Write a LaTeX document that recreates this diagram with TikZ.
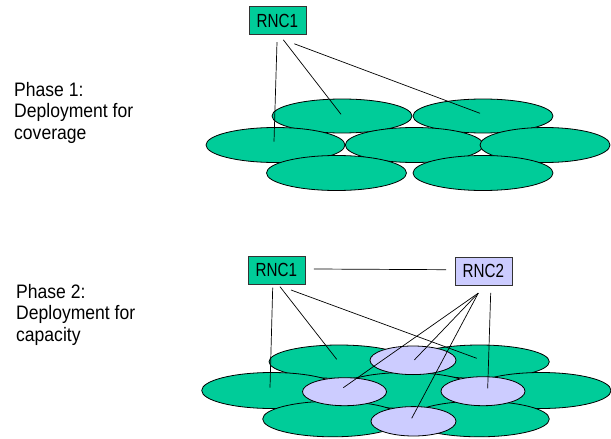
\documentclass[tikz,border=0pt]{standalone}
\usepackage{fontspec}
\setmainfont{Liberation Sans}[FakeStretch=0.9]
\newfontfamily\rncfont{Liberation Sans}[FakeStretch=0.8]
\usetikzlibrary{shapes.geometric}
\definecolor{cellgreen}{HTML}{00CC99}
\definecolor{cellblue}{HTML}{CCCCFF}
\begin{document}
\begin{tikzpicture}[x=1pt,y=-1pt,
 cellg/.style={ellipse,draw=black,fill=cellgreen,line width=0.8pt,inner sep=0pt},
 cellb/.style={ellipse,draw=black,fill=cellblue,line width=0.8pt,inner sep=0pt},
 rnc/.style={draw=black!80,line width=0.6pt,minimum width=57pt,minimum height=28pt,inner sep=0pt,font=\rncfont\fontsize{19}{20}\selectfont},
 link/.style={line width=0.7pt},
 phase/.style={anchor=north west,align=left,inner sep=0pt,font=\fontsize{19.5}{21.6}\selectfont}]
\useasboundingbox (0,0) rectangle (611,439);

% ---------- Phase 1 ----------
\node[phase] (ph1) at (14,82) {Phase 1:\\Deployment for\\coverage};
\node[rnc,fill=cellgreen] (r1a) at (277.4,20.5) {RNC1};

\node[cellg,minimum width=140pt,minimum height=34pt] (a1) at (342,116) {};
\node[cellg,minimum width=140pt,minimum height=34pt] (a2) at (483,116) {};
\node[cellg,minimum width=139pt,minimum height=35pt] (b1) at (275.5,145) {};
\node[cellg,minimum width=138pt,minimum height=35pt] (b2) at (414.3,145) {};
\node[cellg,minimum width=130pt,minimum height=35pt] (b3) at (545,145) {};
\node[cellg,minimum width=140pt,minimum height=35pt] (c1) at (336.5,173) {};
\node[cellg,minimum width=140pt,minimum height=35pt] (c2) at (483,173) {};

\draw[link] ([shift={(-0.4,7.4)}]r1a.south) -- ([shift={(-1.5,-3.3)}]b1.center);
\draw[link] ([shift={(5.9,5)}]r1a.south) -- ([shift={(-1,-1.7)}]a1.center);
\draw[link] ([shift={(16.9,9)}]r1a.south) -- ([shift={(-3,-2.7)}]a2.center);

% ---------- Phase 2 ----------
\node[phase] (ph2) at (16,284) {Phase 2:\\Deployment for\\capacity};
\node[rnc,fill=cellgreen] (r1b) at (276.3,270) {RNC1};
\node[rnc,fill=cellblue] (r2) at (483.3,270.8) {RNC2};

\node[cellg,minimum width=140pt,minimum height=33.4pt] (d1) at (339,361.7) {};
\node[cellg,minimum width=140pt,minimum height=33.4pt] (d2) at (479.3,361.7) {};
\node[cellg,minimum width=140pt,minimum height=36pt] (e1) at (271.7,390.5) {};
\node[cellg,minimum width=140pt,minimum height=36pt] (e2) at (406.4,390.5) {};
\node[cellg,minimum width=140pt,minimum height=36pt] (e3) at (541,390.5) {};
\node[cellg,minimum width=140pt,minimum height=35.6pt] (f1) at (332.7,419) {};
\node[cellg,minimum width=140pt,minimum height=35.6pt] (f2) at (479.3,419) {};

\node[cellb,minimum width=86pt,minimum height=28.6pt] (g1) at (413,360.3) {};
\node[cellb,minimum width=84pt,minimum height=28pt] (g2) at (344.5,391.7) {};
\node[cellb,minimum width=84pt,minimum height=29pt] (g3) at (483,391.2) {};
\node[cellb,minimum width=85pt,minimum height=29.4pt] (g4) at (413.5,421.3) {};

\path (r1b.east) ++(8.7,-1) coordinate (r1e) (r2.west) ++(-8.3,-1.1) coordinate (r2w);
\draw[link] (r1e) -- (r2w);
\draw[link] ([shift={(-3.6,3.4)}]r1b.south) -- ([shift={(-1.7,-2.8)}]e1.center);
\draw[link] ([shift={(3.7,2.4)}]r1b.south) -- ([shift={(-2.3,-2.4)}]d1.center);
\draw[link] ([shift={(14.7,5.7)}]r1b.south) -- ([shift={(-2.6,-3.4)}]d2.center);
\draw[link] ([shift={(-5,8)}]r2.south) -- ([shift={(-1.2,-4)}]g2.center);
\draw[link] ([shift={(-5,8)}]r2.south) -- ([shift={(1.3,-0.3)}]g1.center);
\draw[link] ([shift={(-5,8)}]r2.south) -- ([shift={(-1.8,-3)}]g4.center);
\draw[link] ([shift={(7.4,7.7)}]r2.south) -- ([shift={(4.7,-2.9)}]g3.center);
\end{tikzpicture}
\end{document}
